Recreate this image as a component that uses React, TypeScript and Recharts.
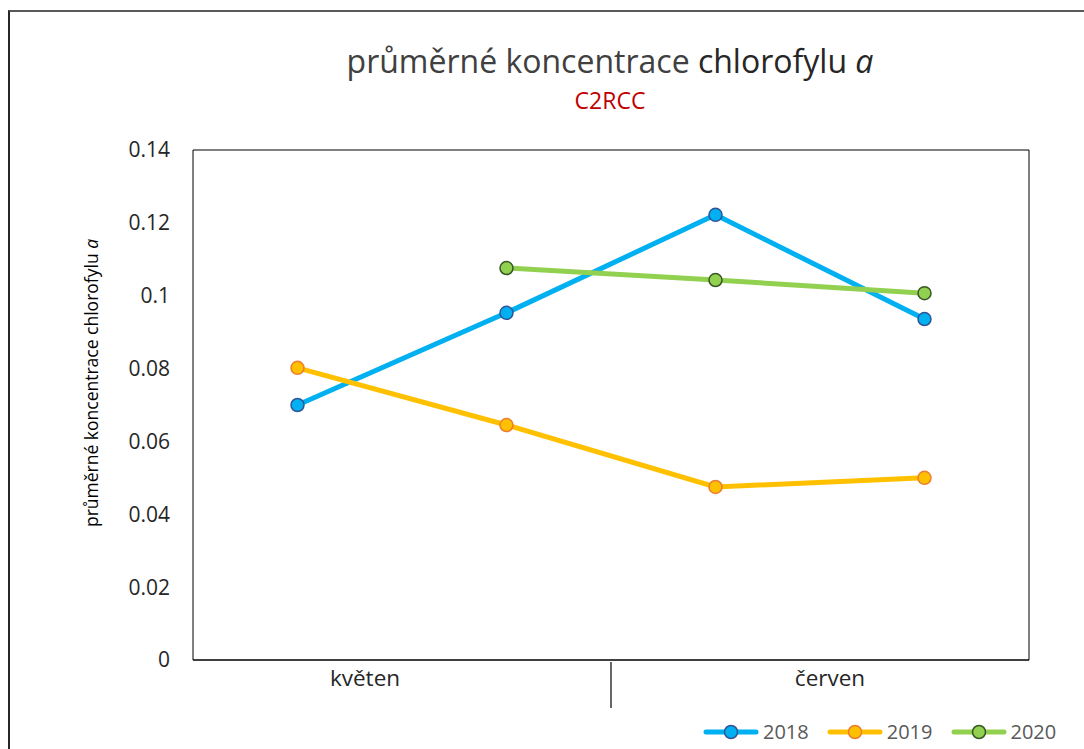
import React from "react";
import { LineChart, Line, XAxis, YAxis, ReferenceArea } from "recharts";

const CATEGORIES = ["květen-1", "květen-2", "červen-1", "červen-2"];
const MONTHS = ["květen", "květen", "červen", "červen"];
const Y_TICKS = [0, 0.02, 0.04, 0.06, 0.08, 0.1, 0.12, 0.14];

const V2018 = [0.07, 0.0953, 0.1222, 0.0936];
const V2019 = [0.0802, 0.0645, 0.0475, 0.05];
const V2020 = [null, 0.1076, 0.1043, 0.1007];

const SERIES = [
  { key: "y2018", name: "2018", line: "#00B0F0", marker: "#2F5597" },
  { key: "y2019", name: "2019", line: "#FFC000", marker: "#ED7D31" },
  { key: "y2020", name: "2020", line: "#92D050", marker: "#375623" },
];

// small nudge of the month labels, Excel doesn't centre them exactly
const MONTH_DX: Record<string, number> = { "květen": -37, "červen": 10 };

const FONT = "'Open Sans', sans-serif";

const data = CATEGORIES.map((c, i) => ({
  cat: c,
  month: MONTHS[i],
  y2018: V2018[i],
  y2019: V2019[i],
  y2020: V2020[i],
}));

function MonthTick(props: any) {
  const { x, y, index, payload } = props;
  const half = payload && payload.offset ? payload.offset : 104.5;
  const month = MONTHS[index];
  const first = index === 0 || MONTHS[index - 1] !== month;
  if (!first) return null;
  let count = 0;
  for (let j = index; j < MONTHS.length && MONTHS[j] === month; j++) count++;
  const center = x - half + count * half + (MONTH_DX[month] || 0);
  return (
    <g>
      {index > 0 && (
        <line x1={x - half} x2={x - half} y1={y} y2={y + 46} stroke="#000" strokeWidth={1.2} />
      )}
      <text x={center} y={y + 24} textAnchor="middle" fontFamily={FONT} fontSize={22.5} fill="#262626">
        {month}
      </text>
    </g>
  );
}

function LegendBox() {
  return (
    <div
      style={{
        position: "absolute",
        left: 703,
        top: 718,
        display: "flex",
        alignItems: "center",
        fontFamily: FONT,
        fontSize: 20,
        color: "#595959",
      }}
    >
      {SERIES.map((s) => (
        <div key={s.key} style={{ display: "flex", alignItems: "center", marginRight: 18 }}>
          <svg width={56} height={24}>
            <line x1={3} x2={53} y1={12} y2={12} stroke={s.line} strokeWidth={5} strokeLinecap="round" />
            <circle cx={28} cy={12} r={6.5} fill={s.line} stroke={s.marker} strokeWidth={1.5} />
          </svg>
          <span style={{ marginLeft: 4 }}>{s.name}</span>
        </div>
      ))}
    </div>
  );
}

export default function App() {
  return (
    <div style={{ position: "absolute", left: 0, top: 0, width: 1084, height: 749, overflow: "hidden", background: "#fff" }}>
      <div
        style={{
          position: "absolute",
          left: 8,
          top: 10,
          width: 1100,
          height: 760,
          borderTop: "2px solid #595959",
          borderLeft: "2px solid #262626",
        }}
      />
      <svg width={1084} height={749} style={{ position: "absolute", left: 0, top: 0 }}>
        <text x={610} y={73} textAnchor="middle" fontFamily={FONT} fontSize={32} fill="#404040">
          průměrné koncentrace <tspan fill="#262626">chlorofylu </tspan>
          <tspan fontStyle="italic" fill="#262626">a</tspan>
        </text>
        <text x={610} y={109} textAnchor="middle" fontFamily={FONT} fontSize={23} fill="#C00000">
          C2RCC
        </text>
        <text
          x={0}
          y={0}
          transform="translate(98 383) rotate(-90)"
          textAnchor="middle"
          fontFamily={FONT}
          fontSize={17.5}
          fill="#000"
        >
          průměrné koncentrace chlorofylu <tspan fontStyle="italic">a</tspan>
        </text>
      </svg>
      <div style={{ position: "absolute", left: 0, top: 0 }}>
        <LineChart
          width={1084}
          height={749}
          data={data}
          margin={{ top: 150, right: 55, bottom: 39, left: 113 }}
        >
          <XAxis
            dataKey="cat"
            scale="band"
            height={50}
            tickLine={false}
            tickSize={0}
            axisLine={{ stroke: "#000", strokeWidth: 1.2 }}
            tick={<MonthTick />}
            interval={0}
          />
          <YAxis
            width={80}
            domain={[0, 0.14]}
            ticks={Y_TICKS}
            tickFormatter={(v: number) => String(+v.toFixed(2))}
            tickLine={false}
            tickSize={0}
            tickMargin={23}
            axisLine={false}
            tick={{ fontFamily: FONT, fontSize: 21, fill: "#262626" }}
          />
          <ReferenceArea y1={0} y2={0.14} fill="none" stroke="#000" strokeWidth={1} />
          {SERIES.map((s) => (
            <Line
              key={s.key}
              dataKey={s.key}
              name={s.name}
              type="linear"
              stroke={s.line}
              strokeWidth={5}
              dot={{ r: 6.5, fill: s.line, stroke: s.marker, strokeWidth: 1.5 }}
              activeDot={false}
              isAnimationActive={false}
            />
          ))}
        </LineChart>
      </div>
      <LegendBox />
    </div>
  );
}
